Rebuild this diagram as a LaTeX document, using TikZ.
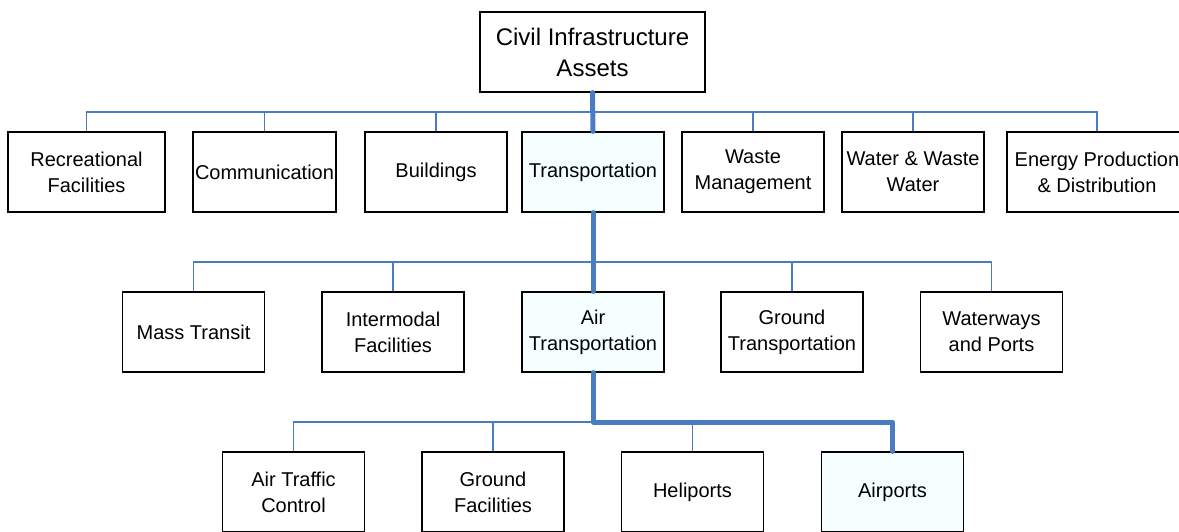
\documentclass[tikz,border=0pt]{standalone}
\usepackage{fontspec}
\setmainfont{Liberation Sans}
\definecolor{linkblue}{HTML}{4A7CC4}
\definecolor{hilite}{HTML}{F5FFFF}
\tikzset{
  box/.style={draw=black, line width=1.2pt, fill=white, minimum width=142pt, minimum height=80pt,
    inner sep=0pt, align=center, font=\fontsize{20}{26}\selectfont},
  hbox/.style={box, fill=hilite},
  thinlink/.style={draw=linkblue, line width=1.3pt},
  thicklink/.style={draw=linkblue, line width=5pt, line cap=round, line join=round},
}
\begin{document}
\begin{tikzpicture}[x=1pt,y=-1pt]
\useasboundingbox (0,0) rectangle (1179,531);
\clip (0,0) rectangle (1179,531);
\fill[white] (0,0) rectangle (1179,531);
% coordinates of buses
\coordinate (bus1) at (593,112);
\coordinate (bus2) at (593,262);
\coordinate (bus3) at (593,422);
% connectors (drawn first, boxes on top)
\node[box, minimum width=225pt, font=\fontsize{24}{31}\selectfont] (root) at (592.5,52) {Civil Infrastructure\\Assets};
\node[box, minimum width=157pt] (rec) at (86.5,172) {Recreational\\Facilities};
\node[box, minimum width=143pt] (com) at (264.5,172) {Communication};
\node[box] (bld) at (436,172) {Buildings};
\node[hbox] (trn) at (593,172) {Transportation};
\node[box] (wst) at (753,172) {Waste\\Management};
\node[box] (wat) at (913,172) {Water \& Waste\\Water};
\node[box, minimum width=180pt] (nrg) at (1097,172) {Energy Production\\\& Distribution};
\node[box] (mas) at (193.5,332) {Mass Transit};
\node[box] (imf) at (393,332) {Intermodal\\Facilities};
\node[hbox] (air) at (593,332) {Air\\Transportation};
\node[box] (gnd) at (792,332) {Ground\\Transportation};
\node[box] (wwp) at (991.5,332) {Waterways\\and Ports};
\node[box] (atc) at (293.5,492) {Air Traffic\\Control};
\node[box] (gfc) at (493,492) {Ground\\Facilities};
\node[box] (hel) at (692.5,492) {Heliports};
\node[hbox] (apt) at (892.5,492) {Airports};
% thin connectors
\foreach \n in {rec,com,bld,trn,wst,wat,nrg} \draw[thinlink] (\n.north) |- (bus1);
\foreach \n in {mas,imf,air,gnd,wwp} \draw[thinlink] (\n.north) |- (bus2);
\foreach \n in {atc,gfc,hel,apt} \draw[thinlink] (\n.north) |- (bus3);
% thick highlighted path
\draw[thicklink] (root.south) -- (trn.north);
\draw[thicklink] (trn.south) -- (air.north);
\draw[thicklink] (air.south) -- (bus3) -| (apt.north);
\end{tikzpicture}
\end{document}
